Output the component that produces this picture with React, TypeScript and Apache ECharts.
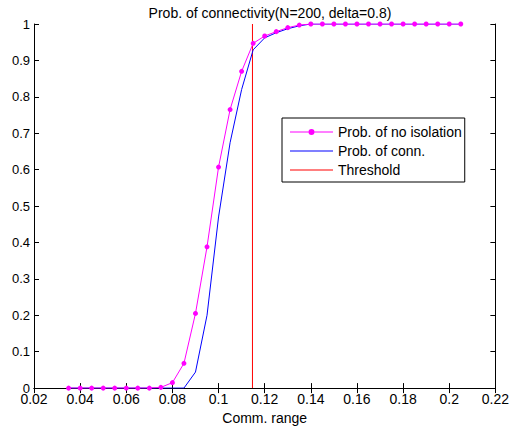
import React, { useEffect, useRef } from "react";
import * as echarts from "echarts";

const commRange = [
  0.035, 0.04, 0.045, 0.05, 0.055, 0.06, 0.065, 0.07, 0.075, 0.08, 0.085, 0.09,
  0.095, 0.1, 0.105, 0.11, 0.115, 0.12, 0.125, 0.13, 0.135, 0.14, 0.145, 0.15,
  0.155, 0.16, 0.165, 0.17, 0.175, 0.18, 0.185, 0.19, 0.195, 0.2, 0.205,
];
const probNoIsolation = [
  0, 0, 0, 0, 0, 0, 0, 0, 0.002, 0.015, 0.068, 0.205, 0.388, 0.607, 0.765,
  0.87, 0.947, 0.967, 0.979, 0.99, 0.997, 1, 1, 1, 1, 1, 1, 1, 1, 1, 1, 1, 1,
  1, 1,
];
const probConn = [
  0, 0, 0, 0, 0, 0, 0, 0, 0, 0, 0, 0.044, 0.2, 0.47, 0.674, 0.82, 0.929,
  0.962, 0.976, 0.987, 0.995, 1, 1, 1, 1, 1, 1, 1, 1, 1, 1, 1, 1, 1, 1,
];
const threshold = 0.1147;
const thresholdY = [0, 1];

const FONT = "'Liberation Sans', Arial, Helvetica, sans-serif";
const LINE_ICON = "path://M0,4 L43,4 L43,5 L0,5 Z";
const DOT_ICON =
  "path://M0,4 L18.5,4 L18.5,5 L0,5 Z M24.5,4 L43,4 L43,5 L24.5,5 Z M18.5,4.5 A3,3 0 1 0 24.5,4.5 A3,3 0 1 0 18.5,4.5 Z";

export default function App() {
  const ref = useRef<HTMLDivElement>(null);
  useEffect(() => {
    if (!ref.current) return;
    const chart = echarts.init(ref.current, undefined, { renderer: "svg" });
    const axisLine = { show: true, lineStyle: { color: "#000", width: 1 } };
    const tick = { show: true, inside: true, length: 5, lineStyle: { color: "#000" } };
    const fmt = (v: number) => String(parseFloat(v.toFixed(2)));
    chart.setOption({
      animation: false,
      backgroundColor: "#fff",
      title: {
        text: "Prob. of connectivity(N=200, delta=0.8)",
        left: 265,
        textAlign: "center",
        top: 1,
        textStyle: { fontFamily: FONT, fontSize: 14, fontWeight: "normal", color: "#000" },
      },
      grid: { left: 34, right: 15, top: 24, bottom: 41, show: false },
      legend: {
        orient: "vertical",
        left: 282,
        top: 118,
        padding: [6, 3, 4, 8],
        itemWidth: 43,
        itemHeight: 9,
        itemGap: 3,
        symbolKeepAspect: true,
        backgroundColor: "#fff",
        borderColor: "#000",
        borderWidth: 1,
        borderRadius: 0,
        textStyle: { fontFamily: FONT, fontSize: 14, color: "#000", lineHeight: 16 },
        data: [
          { name: "Prob. of no isolation", icon: DOT_ICON },
          { name: "Prob. of conn.", icon: LINE_ICON },
          { name: "Threshold", icon: LINE_ICON },
        ],
      },
      xAxis: [
        {
          type: "value",
          min: 0.02,
          max: 0.22,
          interval: 0.02,
          position: "bottom",
          name: "Comm. range",
          nameLocation: "middle",
          nameGap: 22,
          nameTextStyle: { fontFamily: FONT, fontSize: 14, color: "#000" },
          axisLine,
          axisTick: tick,
          splitLine: { show: false },
          axisLabel: { fontFamily: FONT, fontSize: 14, color: "#000", margin: 4, formatter: fmt },
        },
        {
          type: "value",
          min: 0.02,
          max: 0.22,
          interval: 0.02,
          position: "top",
          axisLine,
          axisTick: tick,
          splitLine: { show: false },
          axisLabel: { show: false },
        },
      ],
      yAxis: [
        {
          type: "value",
          min: 0,
          max: 1,
          interval: 0.1,
          position: "left",
          axisLine,
          axisTick: tick,
          splitLine: { show: false },
          axisLabel: { fontFamily: FONT, fontSize: 13, color: "#000", margin: 4, formatter: fmt },
        },
        {
          type: "value",
          min: 0,
          max: 1,
          interval: 0.1,
          position: "right",
          axisLine,
          axisTick: tick,
          splitLine: { show: false },
          axisLabel: { show: false },
        },
      ],
      series: [
        {
          name: "Threshold",
          type: "line",
          data: thresholdY.map((y) => [threshold, y]),
          color: "#ff0000",
          symbol: "none",
          z: 1,
          lineStyle: { width: 1, color: "#ff0000" },
        },
        {
          name: "Prob. of conn.",
          type: "line",
          data: commRange.map((x, i) => [x, probConn[i]]),
          color: "#0000ff",
          symbol: "none",
          z: 2,
          lineStyle: { width: 1, color: "#0000ff" },
        },
        {
          name: "Prob. of no isolation",
          type: "line",
          data: commRange.map((x, i) => [x, probNoIsolation[i]]),
          color: "#ff00ff",
          symbol: "circle",
          symbolSize: 5,
          showSymbol: true,
          z: 3,
          lineStyle: { width: 1, color: "#ff00ff" },
          itemStyle: { color: "#ff00ff" },
        },
      ],
    });
    return () => chart.dispose();
  }, []);
  return (
    <div
      ref={ref}
      style={{ position: "absolute", left: 0, top: 0, width: 512, height: 430, background: "#fff" }}
    />
  );
}
